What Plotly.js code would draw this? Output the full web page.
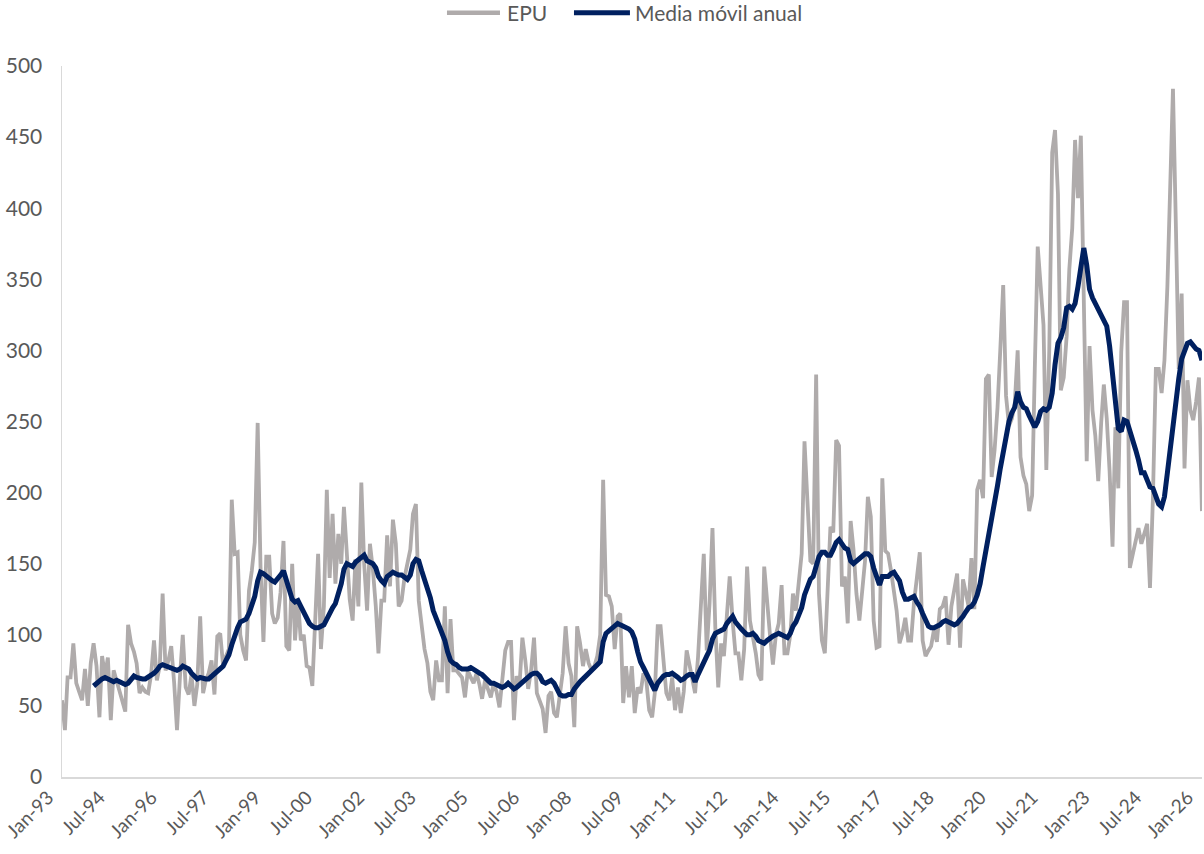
<!DOCTYPE html>
<html>
<head>
<meta charset="utf-8">
<script src="https://cdn.plot.ly/plotly-3.0.1.min.js"></script>
<style>
  html, body { margin: 0; padding: 0; background: #ffffff; }
  #chart { width: 1204px; height: 854px; }
</style>
</head>
<body>
<div id="chart"></div>
<script>
// ---- Data (monthly, Jan-1993 .. Jan-2026) ----
const startYear = 1993;
const seriesNames = ["EPU", "Media móvil anual"];
const seriesColors = ["#AFABAB", "#002060"];

// EPU index, one array per year (Jan..Dec)
const epu1993 = [54, 33, 70, 70, 94, 66, 60, 54, 76, 50, 80, 94];
const epu1994 = [78, 42, 85, 71, 84, 40, 75, 68, 62, 55, 46, 107];
const epu1995 = [94, 88, 80, 59, 63, 60, 59, 72, 96, 68, 78, 129];
const epu1996 = [75, 82, 92, 66, 33, 70, 100, 63, 58, 72, 50, 65];
const epu1997 = [113, 59, 68, 73, 82, 58, 99, 101, 78, 85, 90, 195];
const epu1998 = [157, 158, 100, 89, 82, 131, 145, 165, 249, 148, 95, 155];
const epu1999 = [155, 115, 108, 112, 130, 166, 92, 89, 150, 96, 125, 96];
const epu2000 = [100, 78, 77, 64, 110, 157, 90, 120, 202, 140, 185, 136];
const epu2001 = [171, 150, 190, 153, 125, 110, 153, 120, 207, 150, 117, 164];
const epu2002 = [146, 120, 87, 124, 124, 170, 134, 181, 164, 120, 124, 140];
const epu2003 = [150, 160, 185, 192, 124, 106, 90, 80, 60, 54, 82, 68];
const epu2004 = [68, 120, 59, 111, 75, 75, 72, 70, 56, 75, 70, 66];
const epu2005 = [73, 65, 55, 68, 62, 56, 66, 60, 49, 70, 89, 95];
const epu2006 = [95, 40, 71, 65, 98, 82, 62, 75, 98, 59, 54, 48];
const epu2007 = [31, 57, 60, 45, 42, 60, 73, 106, 80, 71, 35, 106];
const epu2008 = [94, 78, 90, 80, 75, 78, 85, 100, 209, 128, 127, 120];
const epu2009 = [90, 113, 115, 52, 78, 56, 78, 45, 63, 59, 73, 68];
const epu2010 = [47, 42, 59, 106, 106, 82, 59, 54, 70, 47, 63, 45];
const epu2011 = [60, 89, 80, 70, 59, 84, 120, 157, 89, 122, 175, 105];
const epu2012 = [63, 94, 85, 115, 141, 110, 87, 87, 68, 90, 148, 110];
const epu2013 = [98, 87, 72, 68, 148, 120, 100, 79, 100, 108, 135, 87];
const epu2014 = [87, 100, 129, 117, 135, 157, 236, 192, 152, 150, 283, 129];
const epu2015 = [96, 87, 125, 176, 172, 237, 233, 134, 141, 108, 180, 160];
const epu2016 = [129, 110, 130, 152, 197, 183, 110, 91, 92, 210, 159, 157];
const epu2017 = [145, 130, 117, 94, 101, 112, 96, 96, 123, 140, 158, 96];
const epu2018 = [85, 89, 92, 104, 95, 118, 120, 127, 93, 120, 130, 143];
const epu2019 = [91, 139, 130, 120, 154, 118, 202, 209, 196, 280, 283, 211];
const epu2020 = [230, 260, 300, 346, 268, 247, 252, 262, 300, 225, 212, 206];
const epu2021 = [187, 198, 287, 373, 346, 318, 216, 300, 439, 455, 410, 272];
const epu2022 = [281, 310, 357, 386, 448, 407, 451, 351, 222, 303, 258, 240];
const epu2023 = [208, 249, 276, 252, 215, 162, 246, 203, 299, 334, 334, 147];
const epu2024 = [156, 166, 175, 164, 170, 178, 133, 196, 287, 287, 270, 293];
const epu2025 = [345, 420, 484, 387, 287, 340, 217, 279, 258, 251, 264, 281];
const epu2026 = [187];

// 12-month moving average
const ma1993 = [null, null, null, null, null, null, null, null, null, null, null, 64];
const ma1994 = [66, 68, 69, 70, 69, 68, 67, 68, 67, 66, 65, 66];
const ma1995 = [69, 71, 70, 69, 69, 69, 70, 71, 73, 75, 78, 79];
const ma1996 = [78, 77, 77, 76, 75, 76, 78, 77, 76, 73, 71, 69];
const ma1997 = [70, 69, 69, 69, 71, 73, 75, 77, 78, 82, 86, 93];
const ma1998 = [100, 105, 109, 110, 111, 115, 120, 127, 138, 144, 143, 141];
const ma1999 = [139, 138, 137, 139, 142, 145, 139, 133, 125, 123, 124, 120];
const ma2000 = [116, 112, 108, 106, 105, 105, 106, 107, 111, 116, 119, 122];
const ma2001 = [129, 136, 146, 150, 149, 148, 151, 153, 155, 156, 152, 151];
const ma2002 = [150, 147, 141, 138, 136, 141, 143, 144, 143, 142, 142, 141];
const ma2003 = [139, 142, 150, 153, 152, 145, 139, 134, 126, 117, 112, 108];
const ma2004 = [103, 96, 88, 82, 80, 79, 77, 76, 76, 76, 77, 76];
const ma2005 = [75, 73, 72, 70, 67, 66, 66, 65, 64, 63, 64, 66];
const ma2006 = [64, 62, 63, 65, 66, 68, 70, 72, 73, 73, 71, 67];
const ma2007 = [66, 67, 68, 66, 61, 58, 57, 57, 58, 58, 62, 65];
const ma2008 = [67, 69, 71, 73, 76, 78, 79, 81, 95, 101, 103, 104];
const ma2009 = [106, 108, 107, 106, 105, 104, 102, 97, 88, 81, 77, 73];
const ma2010 = [69, 64, 61, 66, 69, 71, 72, 72, 73, 72, 70, 68];
const ma2011 = [69, 71, 72, 72, 67, 72, 77, 80, 85, 89, 97, 101];
const ma2012 = [102, 103, 104, 108, 111, 113, 109, 106, 104, 102, 100, 100];
const ma2013 = [101, 99, 96, 95, 94, 96, 98, 99, 100, 101, 100, 99];
const ma2014 = [98, 101, 106, 109, 113, 119, 128, 135, 139, 141, 147, 155];
const ma2015 = [158, 158, 156, 156, 160, 165, 167, 164, 161, 160, 152, 150];
const ma2016 = [152, 154, 156, 157, 157, 155, 147, 140, 135, 141, 141, 141];
const ma2017 = [143, 144, 141, 138, 130, 125, 125, 126, 127, 123, 120, 115];
const ma2018 = [110, 106, 105, 105, 106, 107, 109, 110, 109, 108, 107, 108];
const ma2019 = [110, 113, 116, 119, 120, 123, 128, 136, 148, 159, 170, 178];
const ma2020 = [192, 205, 217, 230, 240, 250, 256, 260, 271, 264, 260, 259];
const ma2021 = [254, 250, 246, 250, 257, 259, 258, 260, 270, 290, 305, 309];
const ma2022 = [316, 330, 331, 329, 333, 345, 360, 372, 360, 343, 337, 333];
const ma2023 = [328, 325, 322, 317, 303, 283, 262, 245, 243, 251, 250, 244];
const ma2024 = [237, 230, 223, 214, 214, 209, 204, 203, 196, 192, 190, 197];
const ma2025 = [214, 232, 252, 264, 280, 294, 300, 305, 306, 303, 301, 300];
const ma2026 = [293];

// x-axis tick labels (every 18 months)
const tickLabels = ["Jan-93","Jul-94","Jan-96","Jul-97","Jan-99","Jul-00","Jan-02","Jul-03",
  "Jan-05","Jul-06","Jan-08","Jul-09","Jan-11","Jul-12","Jan-14","Jul-15","Jan-17","Jul-18",
  "Jan-20","Jul-21","Jan-23","Jul-24","Jan-26"];
const tickStepMonths = 18;

// ---- Build series ----
const epu = [].concat(epu1993, epu1994, epu1995, epu1996, epu1997, epu1998, epu1999, epu2000,
  epu2001, epu2002, epu2003, epu2004, epu2005, epu2006, epu2007, epu2008, epu2009, epu2010,
  epu2011, epu2012, epu2013, epu2014, epu2015, epu2016, epu2017, epu2018, epu2019, epu2020,
  epu2021, epu2022, epu2023, epu2024, epu2025, epu2026);
const ma = [].concat(ma1993, ma1994, ma1995, ma1996, ma1997, ma1998, ma1999, ma2000,
  ma2001, ma2002, ma2003, ma2004, ma2005, ma2006, ma2007, ma2008, ma2009, ma2010,
  ma2011, ma2012, ma2013, ma2014, ma2015, ma2016, ma2017, ma2018, ma2019, ma2020,
  ma2021, ma2022, ma2023, ma2024, ma2025, ma2026);

function monthDate(k) {
  const y = startYear + Math.floor(k / 12);
  const m = (k % 12) + 1;
  return y + "-" + (m < 10 ? "0" + m : m) + "-01";
}
const dates = epu.map((_, k) => monthDate(k));
const tickVals = tickLabels.map((_, j) => monthDate(j * tickStepMonths));

const fontFam = "Lato, 'Liberation Sans', sans-serif";
const textColor = "#595959";

const traces = [
  {
    x: dates, y: epu, name: seriesNames[0], type: "scatter", mode: "lines",
    line: { color: seriesColors[0], width: 3.8 }, showlegend: false
  },
  {
    x: dates, y: ma, name: seriesNames[1], type: "scatter", mode: "lines",
    line: { color: seriesColors[1], width: 5 }, showlegend: false
  }
];

// Custom legend (drawn above the plot, in paper coordinates)
const legY = 1.075;
const legendItems = [
  { x0: 0.3377, x1: 0.3842, tx: 0.3886 },
  { x0: 0.4491, x1: 0.4982, tx: 0.5009 }
];
const shapes = legendItems.map((it, k) => ({
  type: "line", xref: "paper", yref: "paper",
  x0: it.x0, x1: it.x1, y0: legY, y1: legY,
  line: { color: seriesColors[k], width: k === 0 ? 4.5 : 5 }
}));
const annotations = legendItems.map((it, k) => ({
  xref: "paper", yref: "paper", x: it.tx, y: legY,
  xanchor: "left", yanchor: "middle", showarrow: false,
  text: seriesNames[k],
  font: { family: fontFam, size: 21, color: textColor }
}));

const layout = {
  width: 1204, height: 854,
  margin: { l: 62, r: 2, t: 66, b: 77 },
  paper_bgcolor: "#ffffff", plot_bgcolor: "#ffffff",
  font: { family: fontFam, size: 20, color: textColor },
  showlegend: false,
  shapes: shapes,
  annotations: annotations,
  xaxis: {
    type: "date",
    range: [monthDate(0), "2026-01-02"],
    tickmode: "array", tickvals: tickVals, ticktext: tickLabels,
    tickangle: -45, ticks: "", showgrid: false, zeroline: false,
    showline: true, linecolor: "#D9D9D9", linewidth: 2,
    ticklabelshift: -14,
    ticklabeloverflow: "allow",
    tickfont: { family: fontFam, size: 19, color: textColor },
    automargin: false,
    fixedrange: true
  },
  yaxis: {
    range: [0, 500], dtick: 50, tick0: 0,
    ticks: "", showgrid: false, zeroline: false,
    showline: true, linecolor: "#D9D9D9", linewidth: 1.5,
    tickfont: { family: fontFam, size: 21, color: textColor },
    ticklabelstandoff: 14,
    automargin: false,
    fixedrange: true
  }
};

Plotly.newPlot("chart", traces, layout, { displayModeBar: false, staticPlot: true });
</script>
</body>
</html>
